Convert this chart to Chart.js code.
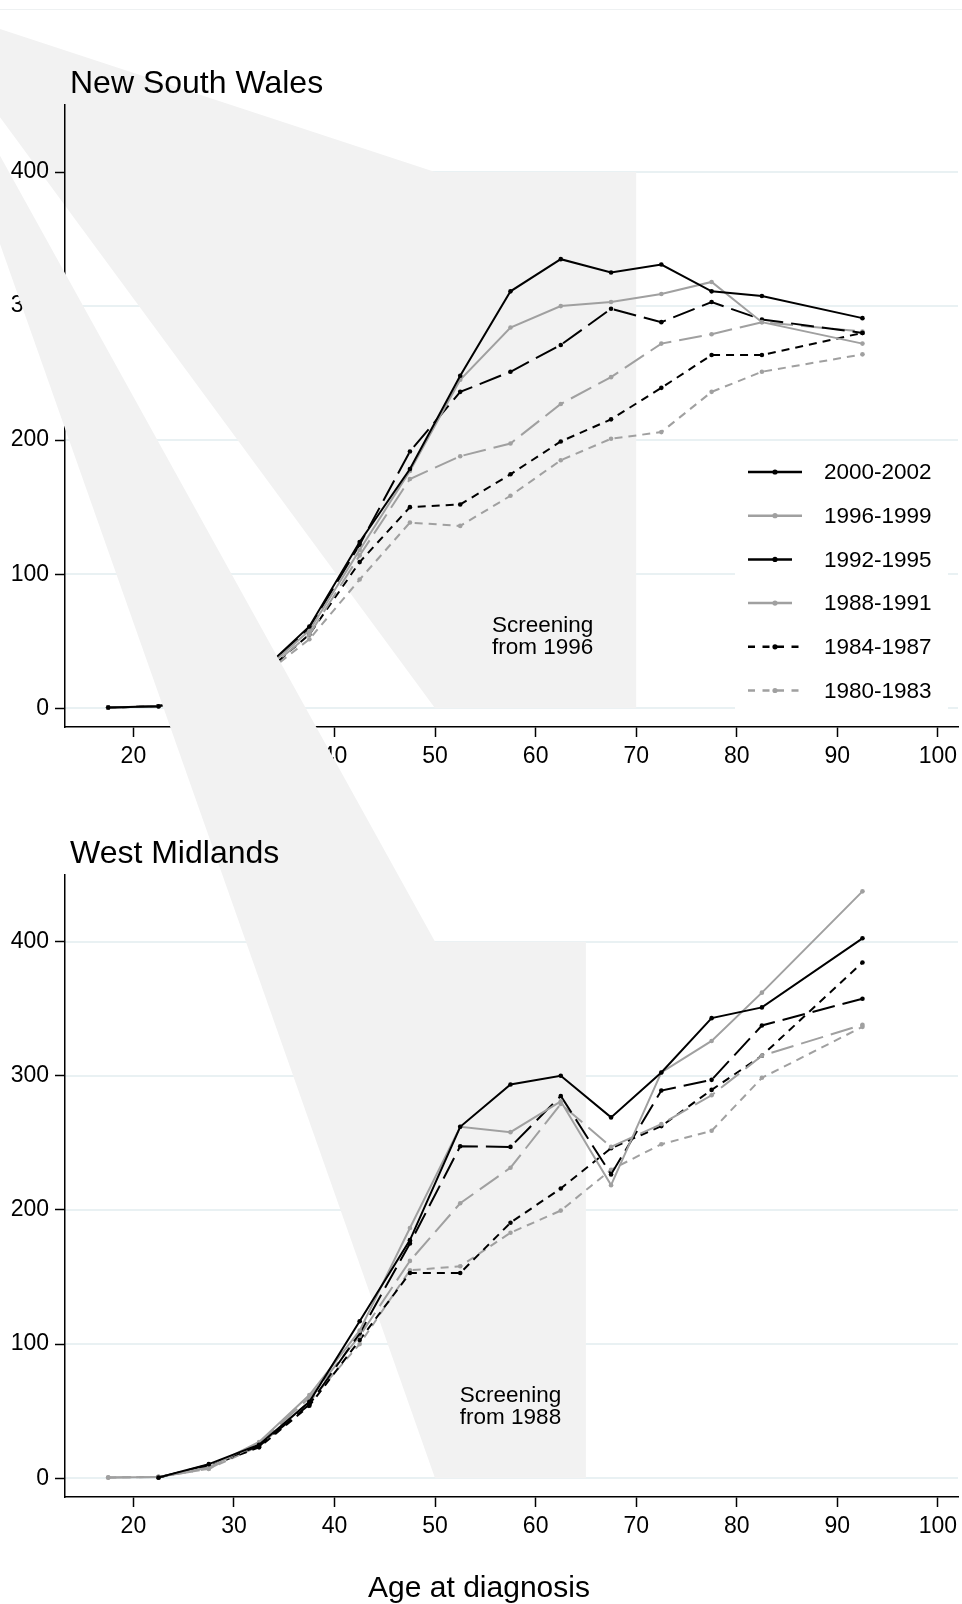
<!DOCTYPE html>
<html>
<head>
<meta charset="utf-8">
<script src="https://cdn.jsdelivr.net/npm/chart.js@4.4.1/dist/chart.umd.min.js"></script>
<style>
  html, body { margin: 0; padding: 0; background: #fff; }
  #page { position: relative; width: 962px; height: 1604px; overflow: hidden; }
  #top-rule { position: absolute; left: 0; top: 9px; width: 962px; height: 1px; background: #eef1f2; }
  .panel { position: absolute; left: 0; top: 0; width: 962px; }
  #nsw-wrap { height: 800px; z-index: 1; }
  #wm-wrap { height: 1604px; z-index: 2; }
  canvas { display: block; }
</style>
</head>
<body>
<div id="page">
  <div id="top-rule"></div>
  <div class="panel" id="nsw-wrap"><canvas id="nsw-chart" width="962" height="800"></canvas></div>
  <div class="panel" id="wm-wrap"><canvas id="wm-chart" width="962" height="1604"></canvas></div>
</div>
<script>
// Age group midpoints (85+ plotted at 92.5)
const ageMidpoints = [17.5, 22.5, 27.5, 32.5, 37.5, 42.5, 47.5, 52.5, 57.5, 62.5, 67.5, 72.5, 77.5, 82.5, 92.5];
const periods = ['2000-2002', '1996-1999', '1992-1995', '1988-1991', '1984-1987', '1980-1983'];

// New South Wales rates
const nsw2000 = [0.5, 1.5, 10, 26, 61, 124, 178.5, 248, 311, 335, 325, 331, 311, 307.5, 291];
const nsw1996 = [0.5, 1.5, 9, 25, 58, 118, 177, 245, 284, 300, 303, 309, 318, 288, 272];
const nsw1992 = [0.5, 1.5, 9, 25, 60, 122, 191.5, 236, 251, 271, 298, 288, 303, 290, 280];
const nsw1988 = [0.5, 1.5, 8, 24, 55, 114, 171, 188, 197.5, 227, 247, 272, 279, 288, 281];
const nsw1984 = [0.5, 1.5, 8, 23, 55, 109, 150, 152, 174.5, 199, 215.5, 239, 263.5, 263.5, 280];
const nsw1980 = [0.5, 1.5, 7, 22, 51.5, 96, 138.5, 136, 158.5, 185, 201, 206, 236, 251, 264];

// West Midlands rates
const wm2000 = [null, 0.5, 10.5, 25, 57, 117, 177.5, 262, 293.5, 300, 269, 302.5, 343, 351, 402.5];
const wm1996 = [0.5, 1, 8, 27, 62, 110, 186.5, 262, 258, 281, 218.5, 302.5, 326, 362, 437.5];
const wm1992 = [null, 0.5, 10, 24, 55, 108, 175, 247.5, 247, 285, 226.5, 289, 297, 337.5, 357.5];
const wm1988 = [0.5, 1, 7, 26, 60, 106, 162, 205, 231.5, 279, 247, 264, 285.5, 315, 338];
const wm1984 = [null, 0.5, 9, 23, 54, 103, 153, 153, 190.5, 216, 246, 262.5, 289.5, 315, 384.5];
const wm1980 = [0.5, 1, 7, 24, 57, 100, 155, 158, 183, 199.5, 230, 249, 259, 298.5, 336.5];

const xTickValues = [20, 30, 40, 50, 60, 70, 80, 90, 100];
const yTickValues = [0, 100, 200, 300, 400];

// Screening age band [from, to] and its top, plus the stray apex vertex of the shading
const nswScreening = [50, 70];
const wmScreening = [50, 65];
const screeningTop = 400;
const nswShadeApex = [-1.78, 527.6];
const wmShadeApex = [-1.78, 1101.3];

const BLACK = '#000000';
const GREY = '#a0a0a0';
const FONT = "'Liberation Sans', Arial, Helvetica, sans-serif";

// line look for each period
const looks = [
  { color: BLACK, dash: [], keyDash: [], keyLen: 54 },
  { color: GREY, dash: [], keyDash: [], keyLen: 54 },
  { color: BLACK, dash: [23, 8], keyDash: [], keyLen: 44 },
  { color: GREY, dash: [23, 8], keyDash: [], keyLen: 44 },
  { color: BLACK, dash: [8, 6], keyDash: [7, 7.5], keyLen: 54 },
  { color: GREY, dash: [8, 6], keyDash: [7, 7.5], keyLen: 54 }
];

// Shaded screening band, drawn under the lines
const shadePlugin = {
  id: 'shade',
  beforeDatasetsDraw(chart, args, opts) {
    const { ctx, scales: { x, y } } = chart;
    const [from, to] = opts.band;
    const verts = [opts.apex, [from, screeningTop], [to, screeningTop], [to, 0], [from, 0]];
    ctx.save();
    ctx.fillStyle = '#f2f2f2';
    ctx.beginPath();
    verts.forEach(([vx, vy], i) => {
      const px = x.getPixelForValue(vx);
      const py = y.getPixelForValue(vy);
      if (i === 0) ctx.moveTo(px, py); else ctx.lineTo(px, py);
    });
    ctx.closePath();
    ctx.fill();

    // band label
    ctx.fillStyle = '#000';
    ctx.font = '22.5px ' + FONT;
    ctx.textAlign = 'center';
    ctx.textBaseline = 'alphabetic';
    const lx = x.getPixelForValue(opts.labelX);
    const ly = y.getPixelForValue(57);
    ctx.fillText('Screening', lx, ly);
    ctx.fillText(opts.labelYear, lx, ly + 22);
    ctx.restore();
  }
};

// Panel heading above the plot area, and the shared axis title
const headingPlugin = {
  id: 'heading',
  afterDraw(chart, args, opts) {
    const { ctx, chartArea } = chart;
    ctx.save();
    ctx.fillStyle = '#000';
    ctx.font = '32px ' + FONT;
    ctx.textAlign = 'left';
    ctx.textBaseline = 'alphabetic';
    ctx.fillText(opts.text, chartArea.left + 5, chartArea.top - 12);
    if (opts.axisTitle) {
      ctx.font = '30px ' + FONT;
      ctx.textAlign = 'center';
      ctx.fillText(opts.axisTitle, chart.width / 2 - 2, chart.height - 7);
    }
    ctx.restore();
  }
};

// Legend box inside the NSW panel
const keyPlugin = {
  id: 'key',
  afterDraw(chart, args, opts) {
    if (!opts.show) return;
    const { ctx } = chart;
    ctx.save();
    ctx.fillStyle = '#fff';
    ctx.fillRect(735, 449, 213, 266);
    chart.data.datasets.forEach((ds, i) => {
      const look = looks[i];
      const rowY = 472 + i * 43.7;
      ctx.strokeStyle = look.color;
      ctx.lineWidth = 2.5;
      ctx.setLineDash(look.keyDash);
      ctx.beginPath();
      ctx.moveTo(748, rowY);
      ctx.lineTo(748 + look.keyLen, rowY);
      ctx.stroke();
      ctx.setLineDash([]);
      ctx.fillStyle = look.color;
      ctx.beginPath();
      ctx.arc(775, rowY, 2.6, 0, Math.PI * 2);
      ctx.fill();
      ctx.fillStyle = '#000';
      ctx.font = '22.5px ' + FONT;
      ctx.textAlign = 'left';
      ctx.textBaseline = 'middle';
      ctx.fillText(ds.label, 824, rowY + 1);
    });
    ctx.restore();
  }
};

const setTicks = (values) => (scale) => {
  scale.ticks = values.map(v => ({ value: v }));
};

const buildPanel = (canvasId, rates, cfg) => {
  const tickFont = { family: FONT, size: 23 };
  return new Chart(document.getElementById(canvasId), {
    type: 'line',
    data: {
      datasets: periods.map((label, i) => ({
        label,
        data: ageMidpoints.map((age, j) => ({ x: age, y: rates[i][j] })),
        borderColor: looks[i].color,
        backgroundColor: looks[i].color,
        borderDash: looks[i].dash,
        borderWidth: 2,
        pointRadius: 2.3,
        pointBorderWidth: 0,
        pointBackgroundColor: looks[i].color,
        pointBorderColor: looks[i].color,
        tension: 0,
        fill: false
      }))
    },
    options: {
      responsive: false,
      animation: false,
      events: [],
      layout: { padding: { top: cfg.top, right: 2, bottom: 0, left: 0 } },
      plugins: {
        legend: { display: false },
        tooltip: { enabled: false },
        shade: { band: cfg.band, apex: cfg.apex, labelX: cfg.labelX, labelYear: cfg.labelYear },
        heading: { text: cfg.title, axisTitle: cfg.axisTitle },
        key: { show: cfg.showKey }
      },
      scales: {
        x: {
          type: 'linear',
          min: 13.2,
          max: 102,
          afterBuildTicks: setTicks(xTickValues),
          afterFit: (s) => { s.height = cfg.xAxisHeight; s.paddingLeft = 0; s.paddingRight = 0; },
          grid: { drawOnChartArea: false, drawTicks: true, tickLength: 10, tickColor: '#000', tickWidth: 1.5, z: 1 },
          border: { color: '#000', width: 1.5, z: 1 },
          ticks: { font: tickFont, color: '#000', padding: 6, maxRotation: 0, autoSkip: false, z: 1 }
        },
        y: {
          type: 'linear',
          position: 'left',
          min: -14,
          max: 450,
          afterBuildTicks: setTicks(yTickValues),
          afterFit: (s) => { s.width = 65; s.paddingTop = 0; s.paddingBottom = 0; },
          grid: { drawOnChartArea: false, drawTicks: true, tickLength: 10, tickColor: '#000', tickWidth: 1.5, z: 1 },
          border: { color: '#000', width: 1.5, z: 1 },
          ticks: { font: tickFont, color: '#000', padding: 6, z: 1 }
        },
        yGrid: {
          type: 'linear',
          position: 'left',
          min: -14,
          max: 450,
          afterBuildTicks: setTicks(yTickValues),
          afterFit: (s) => { s.width = 0; },
          grid: { color: '#e9f1f3', lineWidth: 2, drawTicks: false, z: -1 },
          border: { display: false },
          ticks: { display: false }
        }
      }
    },
    plugins: [shadePlugin, headingPlugin, keyPlugin]
  });
};

buildPanel('nsw-chart', [nsw2000, nsw1996, nsw1992, nsw1988, nsw1984, nsw1980], {
  top: 105,
  xAxisHeight: 73,
  band: nswScreening,
  apex: nswShadeApex,
  labelX: 60.7,
  labelYear: 'from 1996',
  title: 'New South Wales',
  axisTitle: null,
  showKey: true
});

buildPanel('wm-chart', [wm2000, wm1996, wm1992, wm1988, wm1984, wm1980], {
  top: 874.6,
  xAxisHeight: 107,
  band: wmScreening,
  apex: wmShadeApex,
  labelX: 57.5,
  labelYear: 'from 1988',
  title: 'West Midlands',
  axisTitle: 'Age at diagnosis',
  showKey: false
});
</script>
</body>
</html>
